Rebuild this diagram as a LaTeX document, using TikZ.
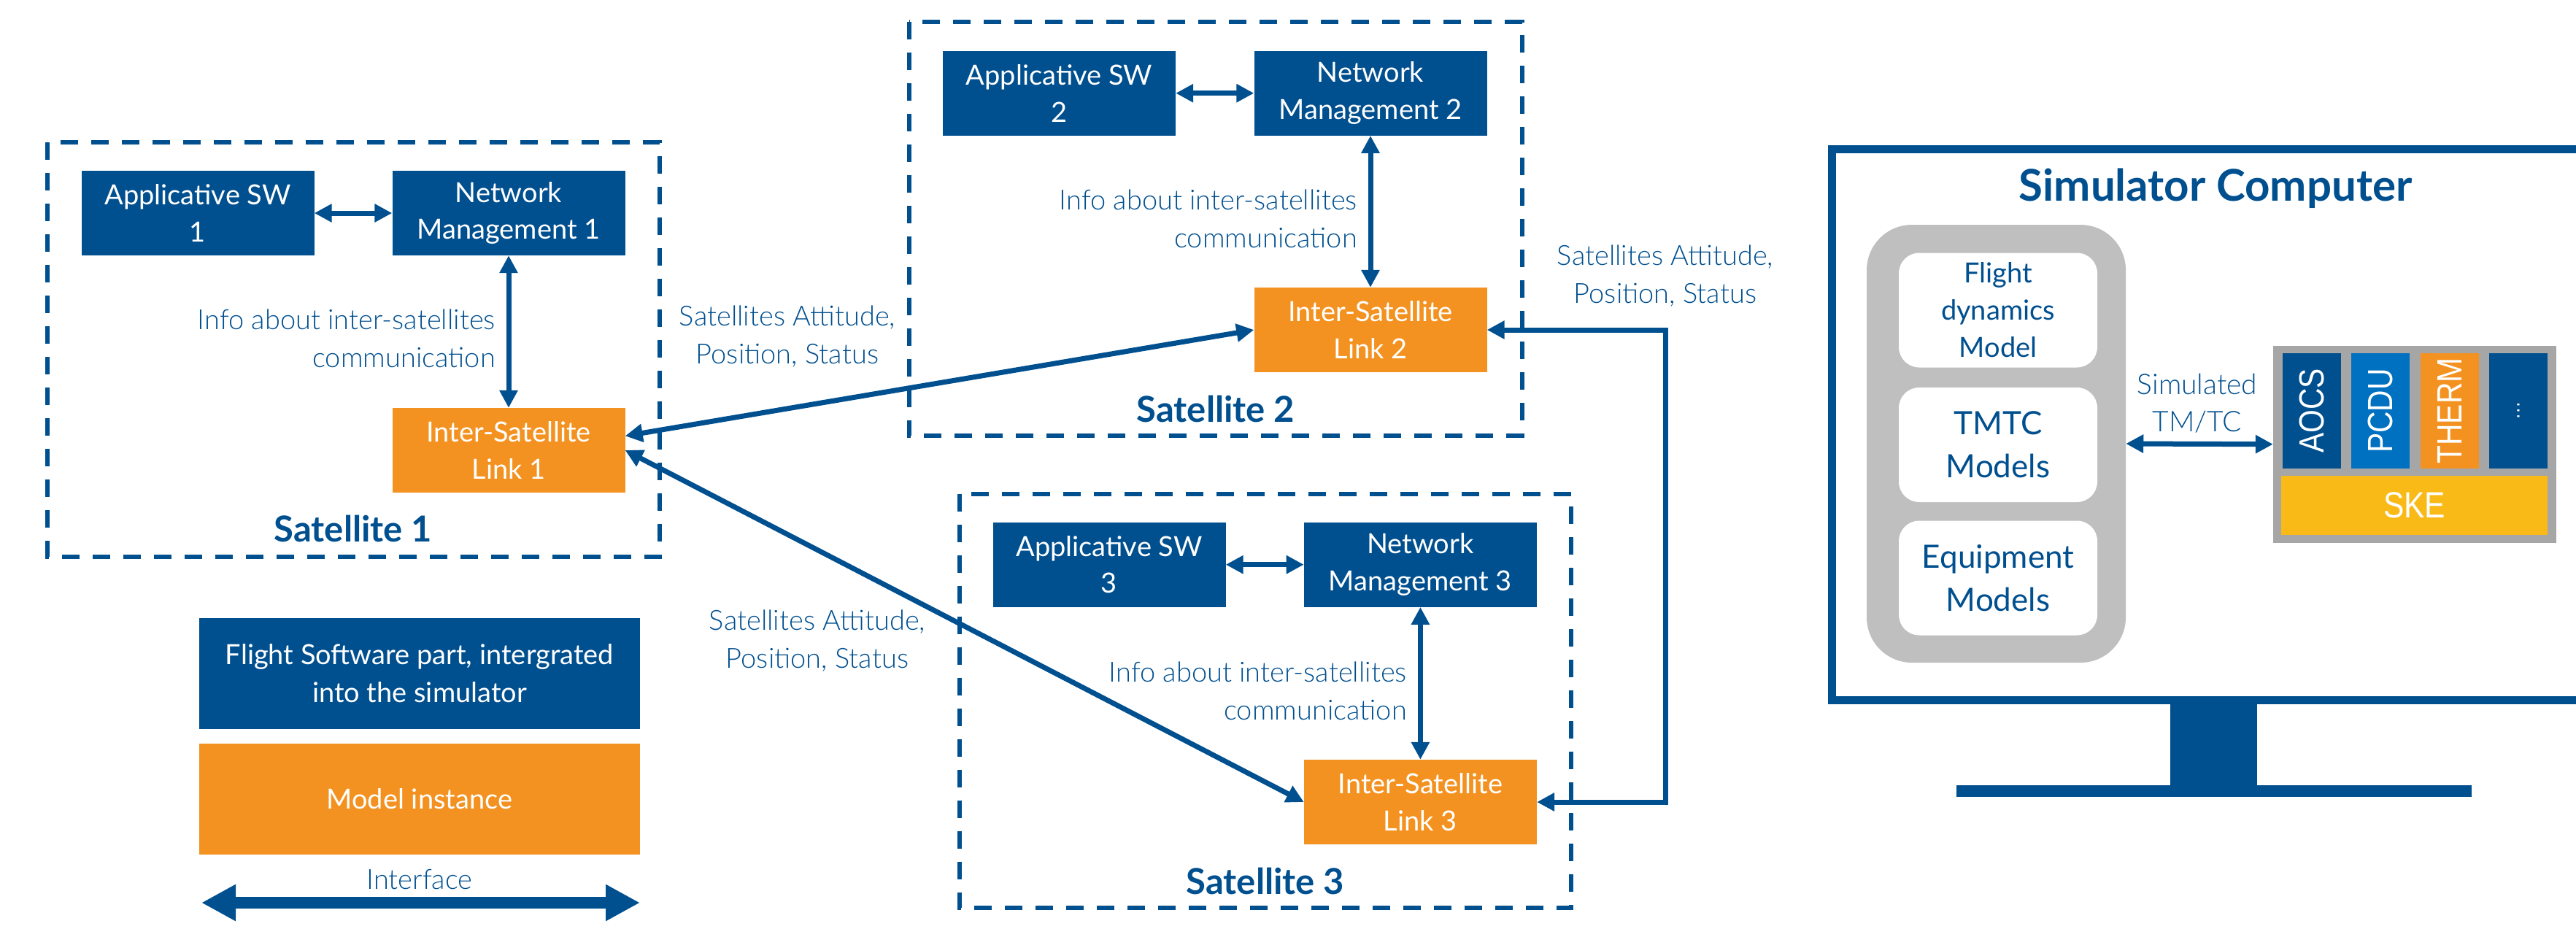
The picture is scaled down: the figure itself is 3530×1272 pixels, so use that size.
\documentclass[tikz,border=0pt]{standalone}
\usepackage{fontspec}
\setmainfont{Lato}
\IfFontExistsTF{Lato Light}{\newfontfamily\lightfont{Lato Light}}{\newfontfamily\lightfont{Lato}}
\newfontfamily\modfont[FakeStretch=0.85]{Liberation Sans}
\usetikzlibrary{arrows.meta}
\definecolor{dblue}{RGB}{0,79,143}
\definecolor{morange}{RGB}{243,146,32}
\definecolor{lblue}{RGB}{0,112,192}
\definecolor{skey}{RGB}{249,186,24}
\definecolor{gbox}{RGB}{166,166,166}
\definecolor{lgray}{RGB}{191,191,191}
\begin{document}
\begin{tikzpicture}[x=1pt,y=-1pt,
  fsw/.style={fill=dblue, text=white, minimum width=319pt, minimum height=116pt, inner sep=0pt, align=center, font=\fontsize{38}{50.7}\selectfont},
  isl/.style={fsw, fill=morange},
  satbox/.style={draw=dblue, line width=6pt, dash pattern=on 24pt off 18pt},
  lbl/.style={text=dblue, inner sep=0pt, font=\lightfont\fontsize{38}{52}\selectfont},
  satlabel/.style={text=dblue, inner sep=0pt, font=\bfseries\fontsize{49}{56}\selectfont},
  conn/.style={draw=dblue, line width=7pt, {Triangle[length=24pt,width=24pt]}-{Triangle[length=24pt,width=24pt]}},
  wbox/.style={fill=white, rounded corners=28pt, minimum width=272pt, minimum height=157pt, inner sep=0pt, text=dblue, align=center},
  modbox/.style={rotate=90, minimum width=158pt, minimum height=80pt, inner sep=0pt, text=white, font=\modfont\fontsize{48}{56}\selectfont}
]
\useasboundingbox (0,0) rectangle (3530,1272);

% ---------- Satellite 1 ----------
\draw[satbox] (64.7,195) rectangle (903.7,763);
\node[fsw] (app1) at (271,292) {Applicative SW\\1};
\node[fsw] (nm1) at (697,292) {Network\\Management 1};
\node[isl] (isl1) at (697,617) {Inter-Satellite\\Link 1};
\node[satlabel] (sat1) at (484,724) {Satellite 1};
\node[lbl, align=right, anchor=east] (info1) at (679,464) {Info about inter-satellites\\communication};
\draw[conn] (app1) -- (nm1);
\draw[conn] (nm1) -- (isl1);

% ---------- Satellite 2 ----------
\draw[satbox] (1245.6,29.5) rectangle (2085.5,597);
\node[fsw] (app2) at (1451.5,127.7) {Applicative SW\\2};
\node[fsw] (nm2) at (1878,127.7) {Network\\Management 2};
\node[isl] (isl2) at (1878,452) {Inter-Satellite\\Link 2};
\node[satlabel] (sat2) at (1666,560) {Satellite 2};
\node[lbl, align=right, anchor=east] (info2) at (1860,300) {Info about inter-satellites\\communication};
\draw[conn] (app2) -- (nm2);
\draw[conn] (nm2) -- (isl2);

% ---------- Satellite 3 ----------
\draw[satbox] (1314.5,676.5) rectangle (2153,1244);
\node[fsw] (app3) at (1520,773.7) {Applicative SW\\3};
\node[fsw] (nm3) at (1946.4,773.7) {Network\\Management 3};
\node[isl] (isl3) at (1946.4,1099) {Inter-Satellite\\Link 3};
\node[satlabel] (sat3) at (1734,1207) {Satellite 3};
\node[lbl, align=right, anchor=east] (info3) at (1928,947) {Info about inter-satellites\\communication};
\draw[conn] (app3) -- (nm3);
\draw[conn] (nm3) -- (isl3);

% ---------- inter-satellite links ----------
\node[lbl, align=center] (att1) at (1079,461) {Satellites Attitude,\\Position, Status};
\node[lbl, align=center] (att2) at (1120,878) {Satellites Attitude,\\Position, Status};
\node[lbl, align=center] (att3) at (2282,378) {Satellites Attitude,\\Position, Status};
\draw[conn] (isl1.7) -- (isl2.west);
\draw[conn] (isl1.east) -- (isl3.west);
\coordinate (elb) at (2282,1099);
\draw[conn] (isl3.east) -- (isl3.east -| elb) |- (isl2.east);

% ---------- Legend ----------
\node[fsw, minimum width=604pt, minimum height=152pt, font=\fontsize{38}{52}\selectfont] (legfsw) at (575,923) {Flight Software part, intergrated\\into the simulator};
\node[isl, minimum width=604pt, minimum height=152pt, font=\fontsize{38}{52}\selectfont] (legmi) at (575,1095) {Model instance};
\node[lbl, font=\lightfont\fontsize{38}{52}\selectfont, anchor=base] (legif) at (575,1218) {Interface};
\coordinate (ifL) at (276,1237);
\coordinate (ifR) at (877,1237);
\draw[draw=dblue, line width=16pt, {Triangle[length=47pt,width=47pt]}-{Triangle[length=47pt,width=47pt]}] (ifL) -- (ifR);

% ---------- Simulator computer ----------
\draw[draw=dblue, line width=11pt] (3530,204.5) -- (2510.5,204.5) -- (2510.5,959.5) -- (3530,959.5);
\fill[dblue] (2974,959.5) rectangle (3093,1076);
\fill[dblue] (2681,1076) rectangle (3387,1092);
\node[text=dblue, inner sep=0pt, font=\bfseries\fontsize{60}{70}\selectfont] (title) at (3036,258) {Simulator Computer};

\node[fill=lgray, rounded corners=62pt, minimum width=355pt, minimum height=600pt, inner sep=0pt] (models) at (2735.5,608) {};
\node[wbox, font=\fontsize{38}{51}\selectfont] (fdm) at (2738,425) {Flight\\dynamics\\Model};
\node[wbox, font=\fontsize{44}{59}\selectfont] (tmtc) at (2738,609.5) {TMTC\\Models};
\node[wbox, font=\fontsize{44}{59}\selectfont] (equip) at (2738,792) {Equipment\\Models};

\node[text=dblue, inner sep=0pt, align=center, font=\lightfont\fontsize{39}{51}\selectfont] (simlbl) at (3011,553) {Simulated\\TM/TC};

\node[fill=gbox, minimum width=388pt, minimum height=269.5pt, inner sep=0pt] (skebox) at (3309,608.75) {};
\draw[conn] (models.east) -- (skebox.west);

\node[modbox, fill=dblue] (aocs) at (3168,563) {AOCS};
\node[modbox, fill=lblue] (pcdu) at (3262,563) {PCDU};
\node[modbox, fill=morange] (therm) at (3357,563) {THERM};
\node[modbox, fill=dblue, font=\modfont\fontsize{30}{36}\selectfont] (more) at (3451,563) {\ldots};
\node[fill=skey, minimum width=365pt, minimum height=81pt, inner sep=0pt, text=white, font=\modfont\fontsize{50}{56}\selectfont] (ske) at (3308.5,692.5) {SKE};
\end{tikzpicture}
\end{document}
